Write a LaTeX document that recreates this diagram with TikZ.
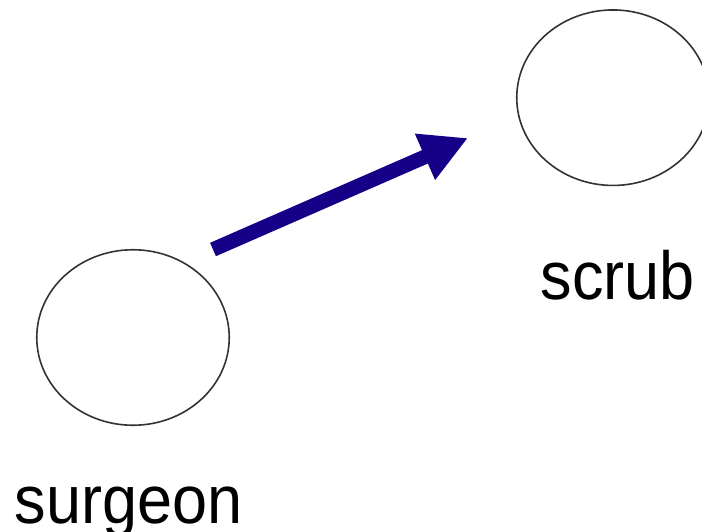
\documentclass[tikz,border=0pt]{standalone}
\usepackage{fontspec}
\setmainfont{Liberation Sans}
\usetikzlibrary{shapes.geometric,arrows.meta}
\definecolor{ringgray}{HTML}{333333}
\definecolor{arrowblue}{RGB}{22,0,136}
\begin{document}
\begin{tikzpicture}[x=1pt,y=-1pt,
	role/.style={draw=ringgray,line width=1.6pt,shape=ellipse,inner sep=0pt,minimum width=192.5pt,minimum height=175.5pt},
	word/.style={anchor=base,inner sep=0pt,font=\fontsize{63}{70}\selectfont,yscale=1.08,transform shape}]
		    	\useasboundingbox (0,0) rectangle (702,532);
		    	\node[role] (SU) at (133,337.5) {};
		    	\node[role] (SC) at (613,97.7) {};
		    	\node[word] (SUL) at (128.5,523) {surgeon};
		    	\node[word] (SCL) at (618,299) {scrub};
		    	\coordinate (AF) at (213,249.5);
		    	\coordinate (AT) at (468,138);
		    	
		    	\draw[arrowblue,line width=14.6pt,-{Triangle[length=47pt,width=47pt]}] (AF)--(AT);
		    \end{tikzpicture}
\end{document}
